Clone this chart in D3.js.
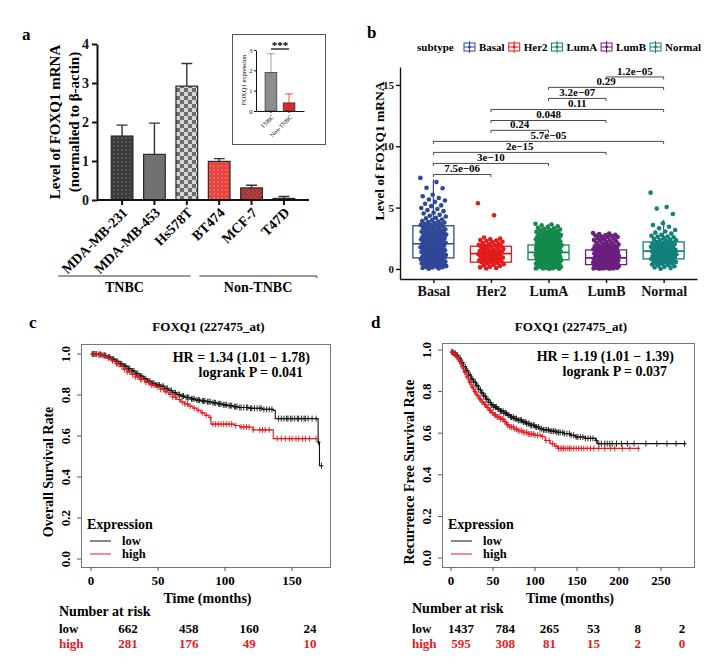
<!DOCTYPE html>
<html>
<head>
<meta charset="utf-8">
<script src="https://cdn.jsdelivr.net/npm/d3@7"></script>
<style>
body { margin: 0; background: #fff; }
svg { font-family: "Liberation Serif", "Times New Roman", serif; font-weight: bold; }
</style>
</head>
<body>
<svg id="fig" width="728" height="668"></svg>
<script>
// ---------- panel a : qPCR bars
var cellLines = ["MDA-MB-231", "MDA-MB-453", "Hs578T", "BT474", "MCF-7", "T47D"];
var cellMean = [1.64, 1.17, 2.92, 0.99, 0.31, 0.04];
var cellSd = [0.28, 0.80, 0.58, 0.07, 0.07, 0.05];
var insetGroups = ["TNBC", "Non-TNBC"];
var insetMean = [1.9, 0.4];
var insetSd = [0.92, 0.44];

// ---------- panel b : subtypes
var subtypes = ["Basal", "Her2", "LumA", "LumB", "Normal"];
var boxLo = [0.0, 0.03, 0.01, 0.0, 0.02];
var boxQ1 = [0.9, 0.55, 0.75, 0.35, 0.82];
var boxMed = [2.05, 1.25, 1.35, 0.9, 1.45];
var boxQ3 = [3.52, 1.85, 1.95, 1.55, 2.2];
var boxHi = [7.3, 2.56, 3.68, 2.92, 4.0];

var basalPts = [7.42,7.08,6.62,6.58,6.05,5.93,5.78,5.66,5.58,5.47,5.31,5.18,5.12,4.97,4.88,4.79,4.71,4.58,4.52,4.41,
  4.33,4.27,4.16,4.12,4.03,3.98,3.91,3.87,3.82,3.79,3.74,3.68,3.66,3.62,3.58,3.55,3.51,3.47,3.41,3.36,3.33,3.27,3.24,
  3.22,3.18,3.13,3.08,3.04,3.02,2.99,2.95,2.92,2.91,2.86,2.83,2.81,2.78,2.74,2.69,2.66,2.63,2.61,2.57,2.53,2.5,2.48,
  2.44,2.41,2.39,2.37,2.33,2.28,2.26,2.24,2.21,2.17,2.14,2.12,2.08,2.05,2.01,1.99,1.97,1.93,1.9,1.88,1.85,1.81,1.79,
  1.77,1.72,1.68,1.66,1.64,1.61,1.57,1.54,1.52,1.49,1.45,1.43,1.41,1.38,1.33,1.31,1.29,1.26,1.22,1.2,1.18,1.14,1.11,
  1.09,1.07,1.03,0.99,0.98,0.96,0.92,0.88,0.87,0.85,0.81,0.78,0.76,0.74,0.71,0.69,0.67,0.63,0.6,0.58,0.56,0.52,0.49,
  0.47,0.45,0.41,0.38,0.36,0.34,0.3,0.27,0.25,0.23,0.19,0.15,0.14,0.12,0.08,0.04,0.02];
var her2Pts = [5.35,4.38,2.56,2.47,2.41,2.36,2.31,2.28,2.22,2.17,2.12,2.06,2.01,1.96,1.93,1.88,1.87,1.82,1.78,1.74,
  1.69,1.63,1.58,1.55,1.51,1.47,1.46,1.42,1.38,1.34,1.31,1.29,1.27,1.24,1.2,1.16,1.12,1.08,1.04,1.01,0.97,0.93,0.92,
  0.88,0.84,0.8,0.76,0.71,0.67,0.63,0.61,0.58,0.54,0.49,0.44,0.39,0.34,0.29,0.24,0.18,0.13,0.08,0.03];
var lumAPts = [3.68,3.62,3.55,3.47,3.41,3.36,3.31,3.27,3.22,3.18,3.14,3.09,3.05,3.02,2.98,2.95,2.91,2.88,2.85,2.82,
  2.79,2.76,2.73,2.7,2.68,2.65,2.62,2.6,2.57,2.54,2.52,2.49,2.46,2.44,2.41,2.39,2.36,2.33,2.31,2.28,2.26,2.23,2.21,
  2.18,2.16,2.13,2.11,2.08,2.06,2.03,2.01,1.98,1.96,1.94,1.91,1.89,1.87,1.84,1.82,1.8,1.77,1.75,1.73,1.71,1.68,1.66,
  1.64,1.62,1.59,1.57,1.55,1.53,1.51,1.48,1.46,1.44,1.42,1.4,1.38,1.36,1.33,1.31,1.29,1.27,1.25,1.23,1.21,1.19,1.17,
  1.14,1.12,1.1,1.08,1.06,1.04,1.02,1.0,0.98,0.96,0.93,0.91,0.89,0.87,0.85,0.83,0.81,0.79,0.77,0.75,0.72,0.7,0.68,
  0.66,0.64,0.62,0.6,0.57,0.55,0.53,0.51,0.48,0.46,0.44,0.42,0.39,0.37,0.35,0.32,0.3,0.27,0.25,0.22,0.2,0.17,0.14,
  0.12,0.09,0.06,0.04,0.02,0.01,2.67,2.43,2.19,1.93,1.7,1.49,1.28,1.07,0.86,0.65,0.45,0.24,0.05,2.55,2.29,2.04,1.78,
  1.56,1.35,1.15,0.94,0.73,0.52,0.33,0.15,2.72,2.38,2.09,1.86,1.61,1.39,1.18,0.97,0.76,0.56,0.36,0.18,0.03,2.5,2.14,
  1.9,1.65,1.45,1.24,1.03,0.82,0.61,0.41,0.21,0.08];
var lumBPts = [2.92,2.88,2.84,2.79,2.74,2.72,2.68,2.63,2.6,2.58,2.52,2.47,2.41,2.36,2.31,2.3,2.26,2.2,2.15,2.1,2.05,
  2.0,1.96,1.92,1.9,1.88,1.84,1.8,1.76,1.72,1.7,1.68,1.65,1.62,1.6,1.59,1.56,1.53,1.5,1.47,1.44,1.41,1.38,1.35,1.35,
  1.32,1.29,1.26,1.23,1.2,1.17,1.15,1.14,1.11,1.1,1.08,1.05,1.02,1.0,0.99,0.97,0.95,0.94,0.92,0.9,0.88,0.86,0.85,0.83,
  0.81,0.8,0.78,0.76,0.74,0.72,0.72,0.7,0.68,0.67,0.65,0.63,0.62,0.61,0.59,0.58,0.57,0.55,0.53,0.52,0.51,0.49,0.48,
  0.47,0.45,0.43,0.42,0.41,0.39,0.38,0.37,0.35,0.33,0.32,0.31,0.29,0.28,0.27,0.25,0.23,0.22,0.21,0.19,0.18,0.17,0.15,
  0.13,0.12,0.11,0.09,0.08,0.07,0.05,0.04,0.03,0.02,0.01];
var normalPts = [6.22,5.05,4.92,4.48,3.72,3.58,3.44,3.31,3.18,3.05,2.96,2.88,2.79,2.71,2.64,2.62,2.58,2.51,2.45,2.39,
  2.36,2.33,2.27,2.21,2.16,2.12,2.1,2.05,2.02,2.0,1.95,1.92,1.9,1.85,1.8,1.76,1.73,1.71,1.67,1.64,1.62,1.58,1.56,1.54,
  1.5,1.48,1.46,1.42,1.4,1.38,1.34,1.3,1.26,1.24,1.22,1.2,1.18,1.14,1.1,1.08,1.06,1.02,0.98,0.94,0.92,0.9,0.86,0.84,
  0.82,0.78,0.76,0.74,0.7,0.65,0.61,0.6,0.56,0.52,0.47,0.44,0.42,0.37,0.32,0.27,0.22,0.17,0.12,0.07,0.02];
var ptArrays = [basalPts, her2Pts, lumAPts, lumBPts, normalPts];

// wilcoxon brackets
var cmpA = ["LumB", "LumA", "LumA", "Her2", "Her2", "Her2", "Basal", "Basal", "Basal", "Basal"];
var cmpB = ["Normal", "Normal", "LumB", "Normal", "LumB", "LumA", "Normal", "LumB", "LumA", "Her2"];
var cmpP = ["1.2e\u221205", "0.29", "3.2e\u221207", "0.11", "0.048", "0.24", "5.7e\u221205", "2e\u221215", "3e\u221210", "7.5e\u221206"];
var cmpY = [15.65, 14.8, 13.9, 13.0, 12.1, 11.3, 10.4, 9.5, 8.6, 7.7];

// ---------- panel c : overall survival
var cLowSteps = [[0,1],[5,0.998],[8,0.993],[12,0.985],[15,0.975],[18,0.964],[21,0.952],[24,0.941],[27,0.929],[30,0.917],
  [33,0.905],[36,0.892],[39,0.879],[42,0.867],[45,0.857],[48,0.849],[52,0.842],[55,0.832],[58,0.822],[61,0.811],[64,0.802],
  [67,0.795],[70,0.788],[74,0.781],[78,0.775],[82,0.771],[86,0.767],[90,0.762],[94,0.757],[98,0.752],[102,0.748],[106,0.743],
  [110,0.739],[118,0.735],[128,0.73],[136,0.725],[137.5,0.685],[169.5,0.57],[170.5,0.455],[172,0.455]];
var cHighSteps = [[0,1],[5,0.996],[9,0.99],[12,0.98],[15,0.967],[18,0.953],[21,0.939],[24,0.925],[27,0.912],[30,0.9],
  [33,0.888],[36,0.876],[40,0.862],[44,0.849],[48,0.839],[52,0.828],[55,0.815],[58,0.803],[61,0.79],[64,0.778],[67,0.766],
  [70,0.756],[73,0.746],[76,0.736],[79,0.725],[82,0.713],[85,0.701],[88,0.69],[89.5,0.658],[107,0.651],[111,0.644],
  [121,0.63],[136,0.587],[168,0.587]];
var cLowCens = [1,2,3,4,6,7,9,10,11,13,14,16,17,19,20,22,23,25,26,28,29,31,32,34,35,37,38,40,41,43,44,46,47,49,50,51,53,
  54,56,57,59,60,62,63,65,66,68,69,71,72,73,75,76,77,79,80,81,83,84,85,87,88,89,91,92,93,95,96,97,99,100,101,103,104,105,
  107,108,109,111,112,114,116,117,119,120,122,124,126,127,129,131,133,135,140,142,144,146,147,149,150,152,154,155,157,159,
  160,162,165,168,169.8,172];
var cHighCens = [2,4,6,8,11,13,16,19,20,23,25,27,29,31,33,35,37,38,41,43,45,47,50,52,54,56,59,61,63,66,68,70,72,74,77,80,
  83,86,89,91,93,95,97,99,101,103,105,108,112,114,116,118,121,126,128,130,133,139,142,145,148,150,153,155,158,160,163,168];
var cRiskLow = [662, 458, 160, 24];
var cRiskHigh = [281, 176, 49, 10];

// ---------- panel d : recurrence free survival
var dLowSteps = [[0,0.99],[3,0.985],[6,0.975],[9,0.96],[12,0.94],[15,0.92],[18,0.9],[21,0.88],[24,0.86],[27,0.845],
  [30,0.828],[33,0.81],[36,0.793],[39,0.778],[42,0.763],[45,0.748],[48,0.736],[51,0.726],[55,0.716],[59,0.706],[63,0.696],
  [67,0.687],[71,0.678],[75,0.67],[80,0.662],[85,0.654],[90,0.646],[95,0.638],[100,0.63],[105,0.622],[110,0.616],
  [118,0.61],[126,0.604],[134,0.598],[142,0.59],[148,0.582],[160,0.575],[172,0.565],[174,0.55],[280,0.55]];
var dHighSteps = [[0,0.99],[3,0.98],[6,0.965],[9,0.945],[12,0.92],[15,0.895],[18,0.87],[21,0.845],[24,0.822],[27,0.8],
  [30,0.782],[33,0.765],[36,0.75],[39,0.738],[42,0.724],[45,0.71],[48,0.698],[51,0.688],[55,0.678],[59,0.668],[63,0.655],
  [66,0.64],[70,0.63],[75,0.62],[80,0.612],[86,0.604],[92,0.596],[100,0.59],[108,0.584],[112,0.565],[118,0.55],
  [123,0.538],[127,0.527],[224,0.527]];
var dLowCens = [1,2,3,5,6,8,9,11,12,14,15,17,18,20,21,23,24,26,27,29,30,32,33,35,36,38,39,41,42,44,45,47,48,50,51,53,54,
  56,57,59,60,62,63,65,66,68,69,71,72,74,75,77,78,80,81,83,84,86,87,89,90,92,93,95,96,98,99,101,102,104,106,108,110,112,
  114,116,118,120,122,124,126,128,130,133,135,138,141,143,146,149,151,154,157,160,163,166,169,173,176,179,183,186,189,192,
  197,203,210,218,232,245,257,268,278];
var dHighCens = [1,2,4,5,7,8,10,11,13,14,16,17,19,20,22,23,25,26,28,29,31,32,34,35,37,38,40,41,43,44,46,47,49,50,52,53,
  55,56,58,59,61,62,64,65,67,68,70,72,74,76,78,80,82,84,86,88,90,92,94,96,98,100,103,106,109,113,117,121,125,128,130,132,
  134,136,139,141,143,146,149,152,155,158,162,166,170,176,183,190,195,204,213,223];
var dRiskLow = [1437, 784, 265, 53, 8, 2];
var dRiskHigh = [595, 308, 81, 15, 2, 0];

var SERIF = '"Liberation Serif", "Times New Roman", serif';
var RED = "#e41a1c";
var svg = d3.select("#fig");
var defs = svg.append("defs");

function fixAxis(g, size) {
  g.attr("font-family", SERIF).attr("font-size", size).attr("font-weight", "bold");
  g.selectAll("text").attr("fill", "#111");
  g.selectAll("line,path").attr("stroke", "#111");
}

// label letters
[["a", 22, 40], ["b", 367, 38], ["c", 29, 328], ["d", 371, 328]].forEach(function (l) {
  svg.append("text").attr("x", l[1]).attr("y", l[2]).attr("font-size", 17).text(l[0]);
});

/////////////////// panel a
function dotPat(id, bg, fg, s) {
  var p = defs.append("pattern").attr("id", id).attr("width", s).attr("height", s).attr("patternUnits", "userSpaceOnUse");
  p.append("rect").attr("width", s).attr("height", s).attr("fill", bg);
  p.append("circle").attr("cx", s / 2).attr("cy", s / 2).attr("r", 0.8).attr("fill", fg);
}
function checkPat(id, bg, fg, s) {
  var p = defs.append("pattern").attr("id", id).attr("width", 2 * s).attr("height", 2 * s).attr("patternUnits", "userSpaceOnUse");
  p.append("rect").attr("width", 2 * s).attr("height", 2 * s).attr("fill", bg);
  p.append("rect").attr("width", s).attr("height", s).attr("fill", fg);
  p.append("rect").attr("x", s).attr("y", s).attr("width", s).attr("height", s).attr("fill", fg);
}
dotPat("p0", "#3b3b3b", "#727272", 4);
checkPat("p1", "#7c7c7c", "#666", 1.5);
checkPat("p2", "#d6d6d6", "#6c6c6c", 4);
dotPat("p3", "#e8443e", "#f58c82", 4);
checkPat("p4", "#b8433e", "#9c3431", 2);
checkPat("p5", "#d94842", "#e86a62", 2);

var xA = d3.scaleBand().domain(cellLines).range([97, 309]).paddingInner(0.33).paddingOuter(0.44);
var yA = d3.scaleLinear().domain([0, 4]).range([200, 44]);
var gA = svg.append("g");
var bwA = xA.bandwidth();

gA.selectAll(".errA").data(cellLines).join("path")
  .attr("d", function (d, i) {
    var cx = xA(d) + bwA / 2, y0 = yA(cellMean[i]), y1 = yA(cellMean[i] + cellSd[i]);
    return "M" + cx + "," + y0 + "V" + y1 + "M" + (cx - 5.5) + "," + y1 + "H" + (cx + 5.5);
  })
  .attr("stroke", "#333").attr("stroke-width", 1.4).attr("fill", "none");

gA.selectAll(".barA").data(cellLines).join("rect")
  .attr("x", function (d) { return xA(d); })
  .attr("y", function (d, i) { return yA(cellMean[i]); })
  .attr("width", bwA)
  .attr("height", function (d, i) { return yA(0) - yA(cellMean[i]); })
  .attr("fill", function (d, i) { return "url(#p" + i + ")"; })
  .attr("stroke", "#2a2a2a").attr("stroke-width", 1.2);

var axAy = gA.append("g").attr("transform", "translate(97,0)")
  .call(d3.axisLeft(yA).ticks(4).tickSize(5).tickSizeOuter(0).tickPadding(3).tickFormat(d3.format("d")));
fixAxis(axAy, 14);
axAy.selectAll("line,path").attr("stroke-width", 2);
var axAx = gA.append("g").attr("transform", "translate(0,200)")
  .call(d3.axisBottom(xA).tickSize(5).tickSizeOuter(0).tickFormat(""));
fixAxis(axAx, 14);
axAx.select(".domain").attr("d", "M97,0H309");
axAx.selectAll("line,path").attr("stroke-width", 2);

gA.selectAll(".xlabA").data(cellLines).join("text")
  .attr("transform", function (d) { return "translate(" + (xA(d) + bwA / 2 + 3) + ",210) rotate(-45)"; })
  .attr("text-anchor", "end").attr("dy", "0.35em").attr("font-size", 14).text(function (d) { return d; });

gA.append("text").attr("transform", "translate(60,122) rotate(-90)").attr("text-anchor", "middle")
  .attr("font-size", 15).text("Level of FOXQ1 mRNA");
gA.append("text").attr("transform", "translate(79,122) rotate(-90)").attr("text-anchor", "middle")
  .attr("font-size", 15).text("(normalied to \u03b2-actin)");

// group lines under the cell line names
var tnbcL = xA("MDA-MB-231") - 53, tnbcR = xA("Hs578T") + bwA - 7;
var nonL = xA("BT474") - 9, nonR = xA("T47D") + bwA + 22;
gA.append("path").attr("d", "M" + tnbcL + ",276H" + tnbcR).attr("stroke", "#333").attr("stroke-width", 1);
gA.append("path").attr("d", "M" + nonL + ",276H" + nonR + "v2").attr("stroke", "#333").attr("stroke-width", 1).attr("fill", "none");
gA.append("text").attr("x", (tnbcL + tnbcR) / 2).attr("y", 292).attr("text-anchor", "middle").attr("font-size", 14).text("TNBC");
gA.append("text").attr("x", (nonL + nonR) / 2).attr("y", 292).attr("text-anchor", "middle").attr("font-size", 14).text("Non-TNBC");

// inset
var gI = svg.append("g");
gI.append("rect").attr("x", 232.5).attr("y", 34.5).attr("width", 93).attr("height", 110)
  .attr("fill", "#fff").attr("stroke", "#555").attr("stroke-width", 1);
var xI = d3.scaleBand().domain(insetGroups).range([256, 304]).paddingInner(0.35).paddingOuter(0.5);
var yI = d3.scaleLinear().domain([0, 3]).range([111, 50]);
var insetFill = ["#8d8d8d", "#d42a2a"];
gI.selectAll(".errI").data(insetGroups).join("path")
  .attr("d", function (d, i) {
    var cx = xI(d) + xI.bandwidth() / 2, y0 = yI(insetMean[i]), y1 = yI(insetMean[i] + insetSd[i]);
    return "M" + cx + "," + y0 + "V" + y1 + "M" + (cx - 4) + "," + y1 + "H" + (cx + 4);
  })
  .attr("stroke", function (d, i) { return i ? "#d42a2a" : "#8d8d8d"; }).attr("stroke-width", 0.8).attr("fill", "none");
gI.selectAll(".barI").data(insetGroups).join("rect")
  .attr("x", function (d) { return xI(d); })
  .attr("y", function (d, i) { return yI(insetMean[i]); })
  .attr("width", xI.bandwidth())
  .attr("height", function (d, i) { return yI(0) - yI(insetMean[i]); })
  .attr("fill", function (d, i) { return insetFill[i]; })
  .attr("stroke", "#333").attr("stroke-width", 0.7);
var axIy = gI.append("g").attr("transform", "translate(256,0)")
  .call(d3.axisLeft(yI).ticks(3).tickSize(2).tickSizeOuter(0).tickPadding(1.5).tickFormat(d3.format("d")));
fixAxis(axIy, 6.5);
axIy.attr("font-weight", "normal");
var axIx = gI.append("g").attr("transform", "translate(0,111)")
  .call(d3.axisBottom(xI).tickSize(2).tickSizeOuter(0).tickFormat(""));
fixAxis(axIx, 6);
gI.selectAll(".xlabI").data(insetGroups).join("text")
  .attr("transform", function (d) { return "translate(" + (xI(d) + xI.bandwidth() / 2 + 2) + ",116) rotate(-45)"; })
  .attr("text-anchor", "end").attr("dy", "0.35em").attr("font-size", 6).attr("font-weight", "normal")
  .text(function (d) { return d; });
gI.append("text").attr("transform", "translate(246,80) rotate(-90)").attr("text-anchor", "middle")
  .attr("font-size", 6.5).attr("font-weight", "normal").text("FOXQ1 expression");
var sigL = xI("TNBC") + xI.bandwidth() / 2, sigR = xI("Non-TNBC") + xI.bandwidth() / 2;
gI.append("path").attr("d", "M" + sigL + ",49H" + sigR).attr("stroke", "#111").attr("stroke-width", 1.3);
gI.append("text").attr("x", (sigL + sigR) / 2).attr("y", 49).attr("text-anchor", "middle").attr("font-size", 11).text("***");

/////////////////// panel b
var subColor = ["#2e4797", "#e31a1c", "#138a4b", "#6b1f7f", "#12807c"];
var xB = d3.scalePoint().domain(subtypes).range([400, 697]).padding(0.58);
var yB = d3.scaleLinear().domain([-0.82, 16.46]).range([279, 67]);
var gB = svg.append("g");
var boxW = 41;

subtypes.forEach(function (s, i) {
  var cx = xB(s), c = subColor[i];
  gB.append("path").attr("d", "M" + cx + "," + yB(boxHi[i]) + "V" + yB(boxQ3[i]) + "M" + cx + "," + yB(boxQ1[i]) + "V" + yB(boxLo[i]))
    .attr("stroke", c).attr("stroke-width", 1.2);
  gB.append("rect").attr("x", cx - boxW / 2).attr("y", yB(boxQ3[i])).attr("width", boxW)
    .attr("height", yB(boxQ1[i]) - yB(boxQ3[i])).attr("fill", "#fff").attr("stroke", c).attr("stroke-width", 1.3);
  gB.append("path").attr("d", "M" + (cx - boxW / 2) + "," + yB(boxMed[i]) + "h" + boxW)
    .attr("stroke", c).attr("stroke-width", 1.6);
});

// jitter: deterministic spread within +-13 px
function jit(k) { return ((k * 0.6180339887) % 1 - 0.5) * 26; }
subtypes.forEach(function (s, i) {
  gB.append("g").selectAll("circle").data(ptArrays[i]).join("circle")
    .attr("cx", function (d, k) { return xB(s) + jit(k); })
    .attr("cy", function (d) { return yB(d); })
    .attr("r", 2.3).attr("fill", subColor[i]);
});

var axBy = gB.append("g").attr("transform", "translate(400,0)")
  .call(d3.axisLeft(yB).tickValues([0, 5, 10, 15]).tickSize(4).tickSizeOuter(0).tickPadding(2));
fixAxis(axBy, 11);
axBy.selectAll("line,path").attr("stroke-width", 1.4);
var axBx = gB.append("g").attr("transform", "translate(0,279)")
  .call(d3.axisBottom(xB).tickSize(4).tickSizeOuter(0).tickPadding(3));
fixAxis(axBx, 14);
axBx.selectAll("line,path").attr("stroke-width", 1.4);

gB.append("text").attr("transform", "translate(384,151) rotate(-90)").attr("text-anchor", "middle")
  .attr("font-size", 13.5).text("Level of FOXQ1 mRNA");

cmpP.forEach(function (p, i) {
  var x0 = xB(cmpA[i]), x1 = xB(cmpB[i]), y = yB(cmpY[i]);
  gB.append("path").attr("d", "M" + x0 + "," + (y + 2.5) + "V" + y + "H" + x1 + "V" + (y + 2.5))
    .attr("fill", "none").attr("stroke", "#333").attr("stroke-width", 0.9);
  gB.append("text").attr("x", (x0 + x1) / 2).attr("y", y - 2).attr("text-anchor", "middle")
    .attr("font-size", 11).text(p);
});

// legend
var gL = svg.append("g").attr("font-size", 11);
gL.append("text").attr("x", 417).attr("y", 51).text("subtype");
var lx = 464;
subtypes.forEach(function (s, i) {
  var c = subColor[i];
  gL.append("rect").attr("x", lx).attr("y", 43).attr("width", 11).attr("height", 8).attr("fill", "#fff").attr("stroke", c).attr("stroke-width", 1);
  gL.append("path").attr("d", "M" + lx + ",47h11M" + (lx + 5.5) + ",41v12").attr("stroke", c).attr("stroke-width", 1);
  gL.append("circle").attr("cx", lx + 5.5).attr("cy", 47).attr("r", 1.4).attr("fill", c);
  var t = gL.append("text").attr("x", lx + 15).attr("y", 51).text(s);
  lx += 15 + t.node().getComputedTextLength() + 4;
});

/////////////////// panels c, d : Kaplan-Meier
function stepAt(steps, t) {
  var v = steps[0][1];
  for (var k = 0; k < steps.length; k++) { if (steps[k][0] <= t) v = steps[k][1]; }
  return v;
}

function drawKM(o) {
  var g = svg.append("g");
  var x = o.x, y = o.y, L = o.box[0], R = o.box[1], T = o.box[2], B = o.box[3];
  g.append("rect").attr("x", L + 0.5).attr("y", T + 0.5).attr("width", R - L).attr("height", B - T)
    .attr("fill", "none").attr("stroke", "#777").attr("stroke-width", 1);
  var yt = [0, 0.2, 0.4, 0.6, 0.8, 1.0];
  g.selectAll(".yt").data(yt).join("path").attr("d", function (d) { return "M" + (L - 4) + "," + y(d) + "H" + L; })
    .attr("stroke", "#555");
  g.selectAll(".ytl").data(yt).join("text")
    .attr("transform", function (d) { return "translate(" + (L - 11) + "," + y(d) + ") rotate(-90)"; })
    .attr("text-anchor", "middle").attr("font-size", 13).text(d3.format(".1f"));
  g.selectAll(".xt").data(o.ticks).join("path").attr("d", function (d) { return "M" + x(d) + "," + B + "v4"; })
    .attr("stroke", "#555");
  g.selectAll(".xtl").data(o.ticks).join("text").attr("x", function (d) { return x(d); }).attr("y", B + 18)
    .attr("text-anchor", "middle").attr("font-size", 13).text(function (d) { return d; });
  g.append("text").attr("x", (L + R) / 2 + 2).attr("y", B + 36).attr("text-anchor", "middle").attr("font-size", 14).text("Time (months)");
  g.append("text").attr("transform", "translate(" + (L - 28) + ",472) rotate(-90)").attr("text-anchor", "middle")
    .attr("font-size", 14).text(o.ylab);
  g.append("text").attr("x", (L + R) / 2 + 3).attr("y", 331).attr("text-anchor", "middle").attr("font-size", 13).text("FOXQ1 (227475_at)");
  g.append("text").attr("x", R - 20).attr("y", T + 18).attr("text-anchor", "end").attr("font-size", 14).text(o.hr);
  g.append("text").attr("x", R - 27).attr("y", T + 33).attr("text-anchor", "end").attr("font-size", 14).text(o.lr);

  var line = d3.line().x(function (d) { return x(d[0]); }).y(function (d) { return y(d[1]); }).curve(d3.curveStepAfter);
  o.curves.forEach(function (cv) {
    g.append("path").datum(cv.steps).attr("d", line).attr("fill", "none").attr("stroke", cv.color).attr("stroke-width", 1.1);
    g.append("g").selectAll("path").data(cv.cens).join("path")
      .attr("d", function (t) { var px = x(t), py = y(stepAt(cv.steps, t)); return "M" + (px - 2) + "," + py + "h4M" + px + "," + (py - 3) + "v6"; })
      .attr("stroke", cv.color).attr("stroke-width", 0.9);
  });

  // legend
  g.append("text").attr("x", L + 6).attr("y", 529).attr("font-size", 14).text("Expression");
  [["low", "#111", 541], ["high", RED, 554]].forEach(function (e) {
    g.append("path").attr("d", "M" + (L + 9) + "," + e[2] + "h21").attr("stroke", e[1]).attr("stroke-width", 1);
    g.append("text").attr("x", L + 41).attr("y", e[2] + 4).attr("font-size", 12.5).text(e[0]);
  });

  // number at risk
  var rx = d3.scalePoint().domain(d3.range(o.riskLow.length)).range(o.riskRange);
  g.append("text").attr("x", o.riskLeft).attr("y", o.riskTop).attr("font-size", 14).text("Number at risk");
  g.append("text").attr("x", o.riskLeft).attr("y", 633).attr("font-size", 13).text("low");
  g.append("text").attr("x", o.riskLeft).attr("y", 648).attr("font-size", 13).attr("fill", RED).text("high");
  g.selectAll(".rl").data(o.riskLow).join("text").attr("x", function (d, i) { return rx(i); }).attr("y", 633)
    .attr("text-anchor", "middle").attr("font-size", 13).text(function (d) { return d; });
  g.selectAll(".rh").data(o.riskHigh).join("text").attr("x", function (d, i) { return rx(i); }).attr("y", 648)
    .attr("text-anchor", "middle").attr("font-size", 13).attr("fill", RED).text(function (d) { return d; });
}

drawKM({
  x: d3.scaleLinear().domain([0, 150]).range([91, 292]),
  y: d3.scaleLinear().domain([0, 1]).range([559, 354]),
  box: [81, 330, 344, 567],
  ticks: [0, 50, 100, 150],
  ylab: "Overall Survival Rate",
  hr: "HR = 1.34 (1.01 \u2212 1.78)", lr: "logrank P = 0.041",
  curves: [{ steps: cLowSteps, cens: cLowCens, color: "#111" }, { steps: cHighSteps, cens: cHighCens, color: RED }],
  riskLow: cRiskLow, riskHigh: cRiskHigh, riskRange: [128, 310], riskLeft: 59, riskTop: 616
});
drawKM({
  x: d3.scaleLinear().domain([0, 250]).range([451, 661]),
  y: d3.scaleLinear().domain([0, 1]).range([558, 350]),
  box: [442, 694, 343, 567],
  ticks: [0, 50, 100, 150, 200, 250],
  ylab: "Recurrence Free Survival Rate",
  hr: "HR = 1.19 (1.01 \u2212 1.39)", lr: "logrank P = 0.037",
  curves: [{ steps: dLowSteps, cens: dLowCens, color: "#111" }, { steps: dHighSteps, cens: dHighCens, color: RED }],
  riskLow: dRiskLow, riskHigh: dRiskHigh, riskRange: [461, 682], riskLeft: 412, riskTop: 613
});
</script>
</body>
</html>
